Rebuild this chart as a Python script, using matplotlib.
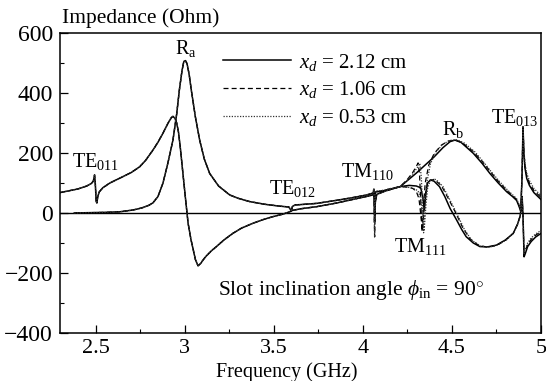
import numpy as np
import matplotlib
matplotlib.use("Agg")
import matplotlib.pyplot as plt
from matplotlib.ticker import MultipleLocator

plt.rcParams['font.family'] = ['Liberation Serif', 'DejaVu Serif']
plt.rcParams['mathtext.fontset'] = 'custom'
plt.rcParams['mathtext.rm'] = 'Liberation Serif'
plt.rcParams['mathtext.it'] = 'Liberation Serif:italic'
plt.rcParams['mathtext.bf'] = 'Liberation Serif:bold'

# ---------------- data ----------------
# shared part (all three x_d overlap), reactance-like curve starting at ~70 Ohm
freq_X_common = [2.30, 2.35, 2.40, 2.45, 2.475, 2.487, 2.494, 2.498, 2.503, 2.507, 2.512, 2.52,
                 2.54, 2.58, 2.635, 2.70, 2.747, 2.78, 2.822, 2.85, 2.878, 2.905, 2.925, 2.934,
                 2.945, 2.955, 2.965, 2.975, 2.99, 3.005, 3.019, 3.035, 3.047, 3.06, 3.075, 3.09,
                 3.105, 3.12, 3.15, 3.178, 3.22, 3.27, 3.32, 3.384, 3.44, 3.496, 3.55, 3.59,
                 3.60, 3.65, 3.74, 3.85, 3.95]
X_common = [68, 74, 80, 90, 98, 106, 127, 100, 40, 33, 55, 70,
            84, 100, 116, 135, 154, 175, 210, 236, 266, 298, 318, 322,
            316, 300, 270, 220, 132, 45, -34, -88, -120, -155, -176, -168,
            -155, -144, -126, -112, -90, -68, -50, -34, -22, -12, -4, 4,
            8, 14, 21, 33, 46]

# shared part, resistance-like curve (peak R_a)
freq_R_common = [2.38, 2.45, 2.55, 2.635, 2.71, 2.76, 2.80, 2.822, 2.85, 2.878, 2.905, 2.934,
                 2.955, 2.97, 2.985, 2.995, 3.004, 3.013, 3.025, 3.037, 3.06, 3.084, 3.11, 3.14,
                 3.19, 3.253, 3.30, 3.365, 3.45, 3.53, 3.585, 3.593, 3.598, 3.605, 3.62, 3.65,
                 3.74, 3.85, 3.95]
R_common = [0, 1, 2, 4, 10, 17, 26, 34, 55, 100, 165, 243,
            330, 410, 475, 505, 508, 498, 462, 410, 320, 243, 180, 132,
            90, 60, 49, 38, 29, 23, 20, 12, 6, 22, 27, 28,
            32, 42, 52]

# x_d = 2.12 cm (solid)
freq_R_212 = [4.02, 4.055, 4.062, 4.066, 4.07, 4.10, 4.15, 4.21, 4.30, 4.40, 4.45, 4.49, 4.517,
              4.55, 4.62, 4.67, 4.713, 4.76, 4.807, 4.84, 4.863, 4.877, 4.886, 4.893, 4.899,
              4.904, 4.91, 4.92, 4.935, 4.96, 5.00]
R_212 = [60, 66, 74, 55, 70, 72, 79, 88, 133, 187, 218, 238, 243,
         236, 199, 165, 132, 100, 71, 55, 42, 22, 5, 110, 287,
         200, 150, 115, 92, 68, 45]
freq_X_212 = [4.02, 4.055, 4.062, 4.066, 4.07, 4.078, 4.13, 4.21, 4.26, 4.30, 4.325, 4.337, 4.345,
              4.352, 4.362, 4.38, 4.40, 4.43, 4.46, 4.49, 4.526, 4.555, 4.58, 4.62, 4.657, 4.70,
              4.75, 4.80, 4.844, 4.868, 4.882, 4.889, 4.894, 4.899, 4.905, 4.912, 4.925, 4.945,
              4.97, 5.00]
X_212 = [55, 60, 70, -30, 35, 62, 74, 88, 92, 90, 84, 50, 10,
         55, 100, 110, 106, 88, 55, 15, -23, -55, -79, -100, -112, -113,
         -107, -90, -68, -38, -12, 15, 55, -10, -146, -135, -112, -95,
         -80, -68]

# x_d = 1.06 cm (dashed)
freq_R_106 = [4.02, 4.055, 4.062, 4.066, 4.07, 4.10, 4.15, 4.21, 4.25, 4.28, 4.30, 4.31, 4.318,
              4.325, 4.332, 4.34, 4.35, 4.37, 4.40, 4.44, 4.48, 4.52, 4.56, 4.62, 4.67, 4.713,
              4.76, 4.807, 4.84, 4.863, 4.877, 4.886, 4.893, 4.899, 4.904, 4.91, 4.92, 4.935,
              4.96, 5.00]
R_106 = [60, 66, 80, 30, 72, 73, 80, 88, 112, 135, 155, 167, 130,
         40, -62, 20, 100, 160, 198, 226, 240, 243, 233, 205, 172, 140,
         106, 76, 58, 45, 25, 6, 110, 287, 205, 158, 124, 100,
         75, 52]
freq_X_106 = [4.02, 4.055, 4.062, 4.066, 4.07, 4.078, 4.13, 4.21, 4.25, 4.28, 4.30, 4.315, 4.325,
              4.335, 4.345, 4.355, 4.37, 4.40, 4.44, 4.48, 4.52, 4.56, 4.60, 4.65, 4.70, 4.75,
              4.80, 4.844, 4.868, 4.882, 4.889, 4.894, 4.899, 4.905, 4.912, 4.925, 4.945, 4.97,
              5.00]
X_106 = [55, 60, 75, -80, 40, 62, 74, 88, 86, 82, 72, 48, -5,
         -58, 25, 82, 108, 112, 92, 48, 2, -48, -85, -108, -114, -108,
         -91, -68, -38, -12, 15, 55, -10, -140, -128, -105, -88, -74,
         -62]

# x_d = 0.53 cm (dotted)
freq_R_053 = [4.02, 4.055, 4.062, 4.066, 4.07, 4.10, 4.15, 4.21, 4.25, 4.28, 4.31, 4.32, 4.328,
              4.335, 4.341, 4.35, 4.36, 4.38, 4.41, 4.45, 4.49, 4.53, 4.57, 4.63, 4.68, 4.72,
              4.77, 4.81, 4.84, 4.863, 4.877, 4.886, 4.893, 4.899, 4.904, 4.91, 4.92, 4.935,
              4.96, 5.00]
R_053 = [60, 66, 82, 20, 74, 74, 81, 88, 110, 130, 155, 165, 120,
         30, -66, 30, 105, 165, 203, 230, 242, 244, 233, 203, 168, 138,
         103, 78, 61, 48, 28, 8, 110, 287, 210, 165, 132, 108,
         82, 58]
freq_X_053 = [4.02, 4.055, 4.062, 4.066, 4.07, 4.078, 4.13, 4.21, 4.25, 4.28, 4.31, 4.325, 4.335,
              4.344, 4.354, 4.364, 4.38, 4.41, 4.45, 4.49, 4.53, 4.57, 4.61, 4.66, 4.71, 4.76,
              4.81, 4.846, 4.868, 4.882, 4.889, 4.894, 4.899, 4.905, 4.912, 4.925, 4.945, 4.97,
              5.00]
X_053 = [55, 60, 78, -80, 42, 62, 74, 88, 86, 83, 74, 46, -8,
         -60, 25, 85, 110, 112, 88, 42, -5, -55, -90, -110, -114, -106,
         -88, -66, -38, -12, 15, 55, -10, -135, -122, -100, -83, -70,
         -58]

series_labels = [r"$x_d$ = 2.12 cm", r"$x_d$ = 1.06 cm", r"$x_d$ = 0.53 cm"]
x_ticks = [2.5, 3, 3.5, 4, 4.5, 5]
x_tick_labels = ["2.5", "3", "3.5", "4", "4.5", "5"]
y_ticks = [-400, -200, 0, 200, 400, 600]

# ---------------- figure ----------------
fig = plt.figure(figsize=(5.46, 3.81), dpi=100)
ax = fig.add_axes([60 / 546, 1 - 333 / 381, 481 / 546, 300 / 381])

styles = [dict(color='black', lw=1.1, linestyle='-'),
          dict(color='black', lw=0.9, linestyle=(0, (4, 2.5))),
          dict(color='#333333', lw=0.9, linestyle=(0, (1, 1.2)))]
tails = [(freq_R_212, R_212, freq_X_212, X_212),
         (freq_R_106, R_106, freq_X_106, X_106),
         (freq_R_053, R_053, freq_X_053, X_053)]

handles = []
for (fr, rv, fx, xv), st, lab in zip(tails, styles, series_labels):
    ax.plot(freq_R_common + fr, R_common + rv, **st)
    h, = ax.plot(freq_X_common + fx, X_common + xv, label=lab, **st)
    handles.append(h)

ax.axhline(0, color='black', lw=1.0, zorder=1)

ax.set_xlim(2.3, 5.0)
ax.set_ylim(-400, 600)
ax.set_xticks(x_ticks)
ax.set_xticklabels(x_tick_labels)
ax.set_yticks(y_ticks)
ax.xaxis.set_minor_locator(MultipleLocator(0.25))
ax.yaxis.set_minor_locator(MultipleLocator(100))
ax.tick_params(axis='both', which='major', direction='in', length=6, width=0.9,
               labelsize=17, colors='black')
ax.tick_params(axis='x', which='major', labelsize=16, pad=4)
ax.tick_params(axis='both', which='minor', direction='in', length=3, width=0.8)
ax.tick_params(axis='y', which='major', pad=5)
for sp in ax.spines.values():
    sp.set_linewidth(1.1)

fig.text(62 / 546, 1 - 18 / 381, "Impedance (Ohm)", ha='left', va='center', fontsize=15.5)
fig.text(287 / 546, 1 - 372 / 381, "Frequency (GHz)", ha='center', va='center', fontsize=14.5)

leg = ax.legend(handles=handles, loc='upper left', bbox_to_anchor=(208 / 546, 1 - 37 / 381),
                bbox_transform=fig.transFigure, frameon=False, fontsize=15,
                handlelength=3.3, handletextpad=0.38, labelspacing=0.33, borderpad=0.2)

ann = dict(ha='center', va='center', fontsize=14.5)
ax.text(3.006, 548, r"R$_{\mathrm{a}}$", **ann)
ax.text(2.497, 170, r"TE$_{\mathrm{011}}$", **ann)
ax.text(3.607, 83, r"TE$_{\mathrm{012}}$", **ann)
ax.text(4.028, 140, r"TM$_{\mathrm{110}}$", **ann)
ax.text(4.32, -113, r"TM$_{\mathrm{111}}$", **ann)
ax.text(4.506, 277, r"R$_{\mathrm{b}}$", **ann)
ax.text(4.855, 317, r"TE$_{\mathrm{013}}$", **ann)
ax.text(3.185, -257, r"Slot inclination angle $\phi_{\mathrm{in}}$ = 90$^{\circ}$",
        ha='left', va='center', fontsize=15.5)

fig.savefig("out.png", dpi=100)
